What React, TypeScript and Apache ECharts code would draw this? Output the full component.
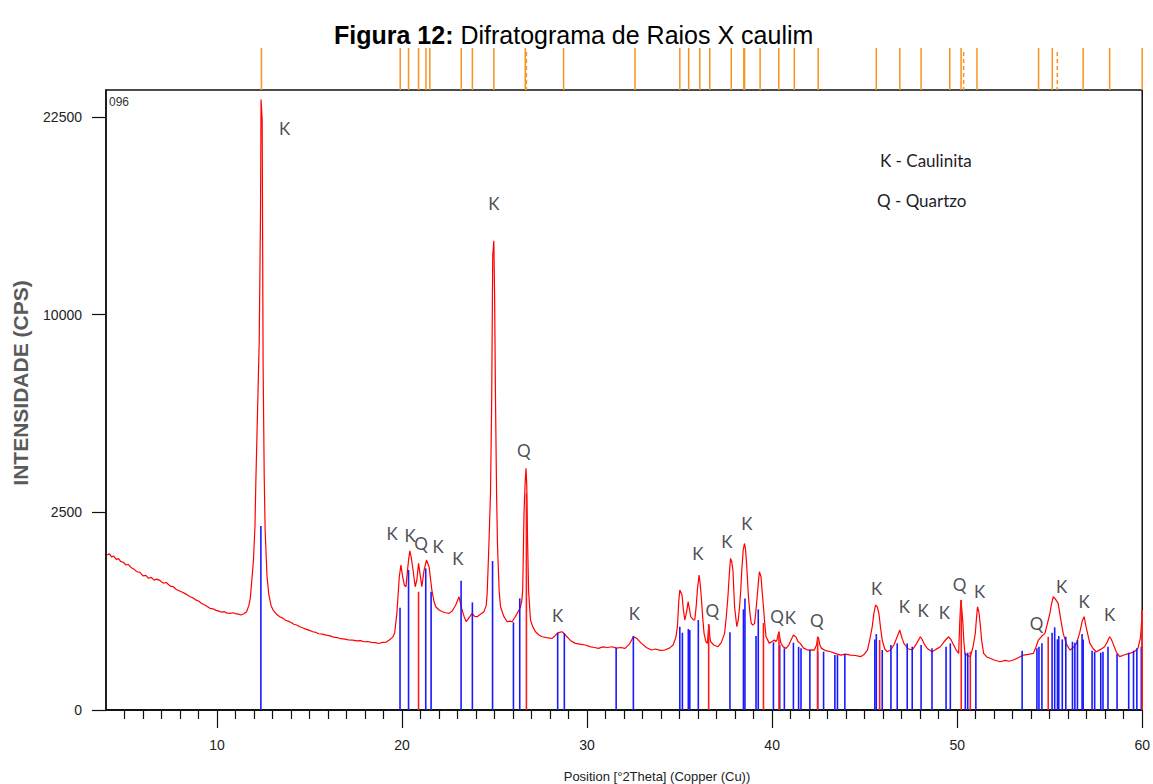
import React, { useEffect, useRef } from "react";
import * as echarts from "echarts";

// ---------- DATA ----------
// Measured diffractogram: [2theta (deg), intensity (counts)]
const patternPoints: [number, number][] = [
  [4.06,1536],[4.18,1560],[4.30,1500],[4.42,1515],[4.55,1450],[4.68,1465],[4.80,1410],[4.95,1395],[5.08,1345],[5.20,1355],
  [5.35,1300],[5.50,1270],[5.68,1223],[5.82,1215],[6.00,1150],[6.15,1160],[6.30,1110],[6.45,1125],[6.60,1080],[6.75,1095],
  [6.93,1070],[7.10,1030],[7.25,1040],[7.47,983],[7.62,975],[7.80,930],[7.95,910],[8.10,890],[8.25,870],[8.40,845],
  [8.55,820],[8.70,805],[8.85,775],[9.00,760],[9.15,730],[9.30,712],[9.45,690],[9.62,661],[9.78,655],[9.95,635],
  [10.10,625],[10.25,612],[10.40,618],[10.55,600],[10.70,597],[10.85,605],[11.00,595],[11.15,588],[11.30,577],[11.45,592],
  [11.60,618],[11.72,700],[11.80,800],[11.90,1150],[11.97,1450],[12.05,2147],[12.10,3382],[12.17,5130],[12.28,8670],[12.35,15770],
  [12.38,23840],[12.44,22250],[12.49,7690],[12.55,3500],[12.60,2071],[12.70,1150],[12.80,850],[12.92,700],[13.03,639],[13.20,590],
  [13.39,557],[13.55,540],[13.70,515],[13.85,505],[14.00,490],[14.15,470],[14.30,462],[14.47,444],[14.65,430],[14.80,418],
  [15.00,405],[15.18,392],[15.35,385],[15.50,372],[15.70,368],[15.90,358],[16.10,352],[16.30,340],[16.50,335],[16.70,325],
  [16.90,322],[17.10,315],[17.34,313],[17.55,305],[17.75,308],[17.95,298],[18.15,300],[18.35,292],[18.55,290],[18.75,283],
  [18.95,292],[19.15,295],[19.31,313],[19.50,340],[19.60,380],[19.72,597],[19.85,1136],[19.94,1344],[20.03,1136],[20.12,1000],
  [20.21,972],[20.35,1438],[20.42,1622],[20.50,1480],[20.57,1312],[20.71,972],[20.80,1081],[20.89,1375],[20.98,1165],[21.07,972],
  [21.19,1253],[21.32,1438],[21.46,1312],[21.61,920],[21.72,760],[21.82,682],[22.00,640],[22.18,618],[22.36,605],[22.54,597],
  [22.72,630],[22.90,705],[23.08,820],[23.22,661],[23.35,560],[23.47,498],[23.60,540],[23.79,597],[23.92,560],[24.06,557],
  [24.25,590],[24.42,618],[24.55,700],[24.60,871],[24.69,1705],[24.78,3010],[24.84,5880],[24.90,13230],[24.96,14090],[25.00,11100],
  [25.05,6144],[25.11,2906],[25.16,1705],[25.25,900],[25.32,682],[25.50,560],[25.68,498],[25.82,505],[25.95,498],[26.10,550],
  [26.22,597],[26.32,640],[26.40,682],[26.47,760],[26.52,920],[26.59,2470],[26.65,3300],[26.70,3734],[26.74,3200],[26.78,1900],
  [26.84,900],[26.94,518],[27.05,450],[27.21,392],[27.40,360],[27.57,343],[27.80,335],[28.00,330],[28.11,328],[28.25,350],
  [28.38,376],[28.50,385],[28.65,392],[28.78,370],[28.91,343],[29.10,310],[29.36,284],[29.60,278],[29.90,270],[30.20,255],
  [30.40,250],[30.61,243],[30.85,255],[31.10,250],[31.33,256],[31.60,245],[31.80,250],[32.05,243],[32.30,280],[32.50,343],
  [32.68,328],[32.94,284],[33.20,250],[33.48,230],[33.70,238],[33.95,228],[34.20,230],[34.45,245],[34.65,270],[34.80,340],
  [34.88,444],[34.96,780],[35.01,920],[35.13,845],[35.20,650],[35.28,518],[35.38,620],[35.46,750],[35.53,650],[35.60,557],
  [35.75,520],[35.82,518],[35.90,700],[35.96,920],[36.05,1165],[36.10,1050],[36.17,820],[36.25,540],[36.32,376],[36.42,300],
  [36.50,284],[36.55,400],[36.59,462],[36.64,330],[36.68,298],[36.85,270],[37.07,256],[37.25,290],[37.43,376],[37.52,550],
  [37.61,820],[37.68,1150],[37.75,1471],[37.82,1400],[37.88,1253],[37.97,682],[38.09,444],[38.17,520],[38.24,682],[38.30,900],
  [38.36,1253],[38.44,1650],[38.51,1774],[38.56,1650],[38.62,1375],[38.72,820],[38.80,600],[38.87,480],[38.96,460],[39.05,480],
  [39.12,620],[39.19,820],[39.26,1050],[39.31,1223],[39.40,1136],[39.46,900],[39.53,682],[39.60,480],[39.67,343],[39.85,284],
  [40.00,300],[40.12,313],[40.20,300],[40.26,313],[40.32,360],[40.37,392],[40.42,330],[40.48,284],[40.60,255],[40.75,243],
  [40.90,270],[41.02,313],[41.15,360],[41.22,350],[41.29,340],[41.40,300],[41.52,284],[41.70,245],[41.92,230],[42.10,232],
  [42.28,230],[42.40,270],[42.47,343],[42.51,330],[42.58,270],[42.67,243],[42.90,225],[43.17,217],[43.40,205],[43.71,193],
  [43.95,200],[44.24,193],[44.50,190],[44.78,182],[44.95,195],[45.15,230],[45.28,320],[45.41,444],[45.50,600],[45.59,705],
  [45.68,680],[45.77,597],[45.86,430],[45.95,313],[46.08,240],[46.22,217],[46.40,230],[46.58,270],[46.75,340],[46.90,409],
  [47.00,340],[47.12,284],[47.35,240],[47.57,230],[47.80,280],[48.01,343],[48.10,320],[48.20,284],[48.40,240],[48.64,217],
  [48.85,235],[49.09,256],[49.30,300],[49.54,343],[49.65,320],[49.81,270],[49.95,230],[50.08,205],[50.14,500],[50.20,773],
  [50.25,650],[50.31,480],[50.36,300],[50.42,205],[50.55,190],[50.71,182],[50.85,250],[50.98,376],[51.05,560],[51.10,682],
  [51.17,620],[51.24,480],[51.33,300],[51.43,205],[51.60,180],[51.78,171],[52.00,160],[52.32,149],[52.60,158],[52.80,152],
  [53.04,160],[53.30,175],[53.58,193],[53.85,198],[54.12,205],[54.25,250],[54.39,313],[54.55,345],[54.74,376],[54.88,480],
  [55.01,597],[55.10,720],[55.19,820],[55.30,790],[55.46,727],[55.60,520],[55.73,376],[55.90,280],[56.09,230],[56.25,245],
  [56.45,284],[56.62,380],[56.75,500],[56.86,557],[56.98,430],[57.17,284],[57.35,240],[57.52,217],[57.75,235],[57.97,256],
  [58.12,300],[58.24,343],[58.33,320],[58.42,284],[58.60,215],[58.78,182],[59.05,195],[59.32,205],[59.55,215],[59.77,243],
  [59.90,330],[59.95,444],[60.00,640],
];

// Reference pattern sticks (kaolinite, blue): [2theta, counts]
const kaoliniteSticks: [number, number][] = [
  [12.37,2165],[19.89,670],[20.35,1253],[21.28,1283],[21.57,895],[23.19,1069],[23.80,741],[24.89,1419],[26.02,492],[26.36,797],
  [28.41,382],[28.77,376],[31.57,248],[32.50,350],[35.01,444],[35.15,382],[35.47,420],[35.55,409],[36.01,518],[37.72,386],
  [38.45,648],[38.53,797],[39.13,350],[39.25,648],[40.07,293],[40.41,270],[40.66,243],[41.15,290],[41.43,256],[41.56,243],
  [42.04,230],[42.46,217],[42.78,217],[43.39,193],[43.53,193],[43.93,200],[45.55,319],[45.63,369],[45.95,230],[46.42,270],
  [46.76,284],[47.30,284],[47.57,256],[48.05,270],[48.64,243],[49.40,256],[49.63,284],[50.44,210],[50.57,210],[51.01,230],
  [53.51,225],[54.31,243],[54.42,256],[54.58,284],[55.13,382],[55.27,437],[55.42,319],[55.49,350],[55.68,319],[55.87,343],
  [56.23,298],[56.36,290],[56.50,313],[56.75,369],[56.81,319],[57.29,225],[57.43,217],[57.76,210],[57.88,217],[58.15,256],
  [58.64,200],[59.27,210],[59.53,225],[59.71,243],[59.95,256],
];

// Reference pattern sticks (quartz, red): [2theta, counts]
const quartzSticks: [number, number][] = [
  [20.89,895],[26.72,3000],[36.57,473],[39.53,484],[40.37,392],[42.46,343],[45.81,313],[50.22,773],[50.71,217],[54.92,343],[60.0,640],
];

// Peak position markers above the plot (2theta)
const topMarkers: number[] = [
  12.40,19.90,20.35,20.89,21.29,21.50,23.20,23.80,24.96,26.66,28.73,32.59,35.01,35.49,36.09,36.63,37.79,38.47,38.51,39.35,
  40.36,41.20,42.49,45.63,46.90,48.05,49.60,50.21,51.07,54.40,55.14,56.81,58.24,60.0,
];
const dashedTopMarkers: number[] = [26.72, 50.35, 55.41];

// Peak labels: [2theta, counts, phase letter]
const peakLabels: [number, number, string][] = [
  [13.66,21660,"K"],[24.96,16430,"K"],[26.58,4320,"Q"],[19.46,1996,"K"],[20.43,1957,"K"],[21.02,1775,"Q"],[21.95,1720,"K"],
  [23.02,1472,"K"],[28.41,577,"K"],[32.55,598,"K"],[35.99,1570,"K"],[36.76,639,"Q"],[37.56,1812,"K"],[38.63,2229,"K"],
  [40.26,565,"Q"],[40.98,549,"K"],[42.42,518,"Q"],[45.65,947,"K"],[47.15,691,"K"],[48.16,627,"K"],[49.31,605,"K"],
  [50.13,1015,"Q"],[51.21,895,"K"],[54.29,480,"Q"],[55.64,983,"K"],[56.86,750,"K"],[58.24,589,"K"],
];

const xMajorTicks: number[] = [10, 20, 30, 40, 50, 60];
const xMinorTicks: number[] = [5,6,7,8,9,11,12,13,14,15,16,17,18,19,21,22,23,24,25,26,27,28,29,31,32,33,34,35,36,37,38,39,41,42,43,44,45,46,47,48,49,51,52,53,54,55,56,57,58,59];
const yTickLabels: number[] = [0, 2500, 10000, 22500];

const X_MIN = 4;
const X_MAX = 60;
const Y_MAX_COUNTS = 24590;

// ---------- COMPONENT ----------
export default function App() {
  const ref = useRef<HTMLDivElement>(null);

  useEffect(() => {
    if (!ref.current) return;
    const chart = echarts.init(ref.current, undefined, { renderer: "svg" });
    const sq = Math.sqrt;
    const yMax = sq(Y_MAX_COUNTS);

    const stickRenderer = (color: string, width: number) => (params: any, api: any) => {
      const x = api.value(0);
      const h = api.value(1);
      const p0 = api.coord([x, 0]);
      const p1 = api.coord([x, h]);
      return {
        type: "line",
        shape: { x1: p0[0], y1: p0[1], x2: p1[0], y2: p1[1] },
        style: { stroke: color, lineWidth: width },
      };
    };

    const markerData = [
      ...topMarkers.map((t) => [t, yMax, 0]),
      ...dashedTopMarkers.map((t) => [t, yMax, 1]),
    ];

    const font = "'Liberation Sans', Arial, sans-serif";

    chart.setOption({
      animation: false,
      backgroundColor: "#ffffff",
      title: {
        text: "{b|Figura 12:} Difratograma de Raios X caulim",
        left: 329,
        top: 17,
        textStyle: {
          fontSize: 25,
          fontWeight: "normal",
          fontFamily: font,
          color: "#000",
          rich: { b: { fontSize: 25, fontWeight: "bold", fontFamily: font, color: "#000" } },
        },
      },
      grid: {
        left: 106,
        right: 7,
        top: 90,
        bottom: 74,
        show: true,
        borderColor: "#111",
        borderWidth: 1.5,
      },
      xAxis: [
        {
          type: "value",
          min: X_MIN,
          max: X_MAX,
          axisLine: { show: true, lineStyle: { color: "#111", width: 1.5 } },
          axisTick: { show: true, customValues: xMajorTicks, length: 18, lineStyle: { color: "#111", width: 1.2 } },
          axisLabel: { customValues: xMajorTicks, margin: 28, fontSize: 14, color: "#222", fontFamily: font },
          splitLine: { show: false },
        },
        {
          type: "value",
          min: X_MIN,
          max: X_MAX,
          position: "bottom",
          axisLine: { show: true, lineStyle: { color: "#111", width: 1.5 } },
          axisTick: { show: true, customValues: xMinorTicks, length: 9, lineStyle: { color: "#111", width: 1.2 } },
          axisLabel: { show: false },
          splitLine: { show: false },
        },
      ],
      yAxis: {
        type: "value",
        min: 0,
        max: yMax,
        axisLine: { show: true, lineStyle: { color: "#111", width: 1.5 } },
        axisTick: { show: true, customValues: yTickLabels.map(sq), length: 14, lineStyle: { color: "#111", width: 1.2 } },
        axisLabel: {
          customValues: yTickLabels.map(sq),
          formatter: (v: number) => String(Math.round(v * v)),
          margin: 24,
          fontSize: 14,
          color: "#222",
          fontFamily: font,
        },
        splitLine: { show: false },
      },
      series: [
        {
          type: "line",
          data: patternPoints.map(([t, c]) => [t, sq(c)]),
          symbol: "none",
          lineStyle: { color: "#ff0000", width: 1.2 },
          z: 2,
        },
        {
          type: "custom",
          data: kaoliniteSticks.map(([t, c]) => [t, sq(c)]),
          renderItem: stickRenderer("#1a1aff", 1.6),
          z: 3,
        },
        {
          type: "custom",
          data: quartzSticks.map(([t, c]) => [t, sq(c)]),
          renderItem: stickRenderer("#ff1a1a", 1.6),
          z: 3,
        },
        {
          type: "custom",
          clip: false,
          data: markerData,
          renderItem: (params: any, api: any) => {
            const x = api.value(0);
            const dashed = api.value(2) === 1;
            const p = api.coord([x, api.value(1)]);
            return {
              type: "line",
              shape: { x1: p[0], y1: p[1] - (dashed ? 38 : 42), x2: p[0], y2: p[1] },
              style: { stroke: "#f7931e", lineWidth: 1.5, lineDash: dashed ? [4, 3] : null },
            };
          },
          z: 4,
        },
        {
          type: "scatter",
          data: peakLabels.map(([t, c, s]) => [t, sq(c), s]),
          symbolSize: 1,
          itemStyle: { color: "rgba(0,0,0,0)" },
          label: {
            show: true,
            position: "inside",
            formatter: (p: any) => p.value[2],
            fontSize: 17,
            fontFamily: "Lato, 'Open Sans', sans-serif",
            color: "#1d1d2b",
          },
          z: 5,
        },
      ],
      graphic: [
        {
          type: "text",
          left: 109,
          top: 96,
          style: { text: "096", fontSize: 12, fontFamily: font, fill: "#333" },
        },
        {
          type: "text",
          x: 880,
          y: 160,
          style: { text: "K - Caulinita", fontSize: 17, fontFamily: "Lato, sans-serif", fill: "#1d1d2b", verticalAlign: "middle" },
        },
        {
          type: "text",
          x: 877,
          y: 200,
          style: { text: "Q - Quartzo", fontSize: 17, fontFamily: "Lato, sans-serif", fill: "#1d1d2b", verticalAlign: "middle" },
        },
        {
          type: "text",
          x: 20,
          y: 383,
          rotation: Math.PI / 2,
          style: {
            text: "INTENSIDADE (CPS)",
            fontSize: 21,
            fontWeight: "bold",
            fontFamily: font,
            fill: "#5a5a5a",
            align: "center",
            verticalAlign: "middle",
          },
        },
        {
          type: "text",
          x: 657,
          y: 776,
          style: {
            text: "Position [°2Theta] (Copper (Cu))",
            fontSize: 13,
            fontFamily: font,
            fill: "#222",
            align: "center",
            verticalAlign: "middle",
          },
        },
      ],
    });

    return () => chart.dispose();
  }, []);

  return (
    <div
      ref={ref}
      style={{ position: "absolute", left: 0, top: 0, width: 1153, height: 784, background: "#fff" }}
    />
  );
}
